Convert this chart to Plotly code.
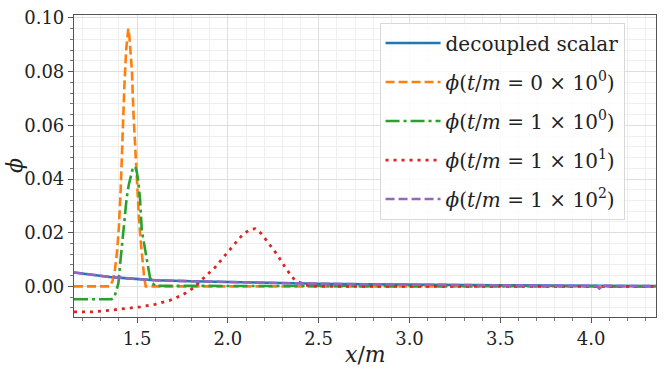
import plotly.graph_objects as go

# values
x_decoupled = [1.153, 1.25, 1.35, 1.45, 1.6, 1.8, 2.0, 2.25, 2.5, 2.75, 3.0, 3.25, 3.5, 3.75, 4.0, 4.2, 4.357]
y_decoupled = [0.0052, 0.0043, 0.0035, 0.0030, 0.0023, 0.0019, 0.0016, 0.0013, 0.0010, 0.0008, 0.0006,
               0.0005, 0.0004, 0.0003, 0.0002, 0.00015, 0.0001]

x_t0 = [1.153, 1.35, 1.365, 1.378, 1.39, 1.40, 1.41, 1.42, 1.43, 1.44, 1.447, 1.452, 1.458, 1.465,
        1.472, 1.48, 1.49, 1.50, 1.51, 1.52, 1.53, 1.54, 1.548, 4.357]
y_t0 = [0, 0, 0.002, 0.006, 0.013, 0.022, 0.036, 0.058, 0.074, 0.088, 0.095, 0.096, 0.093, 0.088,
        0.080, 0.065, 0.050, 0.036, 0.026, 0.017, 0.009, 0.003, 0, 0]

x_t1 = [1.153, 1.36, 1.375, 1.388, 1.397, 1.407, 1.416, 1.425, 1.435, 1.443, 1.455, 1.465, 1.475,
        1.489, 1.498, 1.507, 1.516, 1.526, 1.54, 1.553, 1.562, 1.571, 1.585, 1.6, 4.357]
y_t1 = [-0.0048, -0.0048, -0.0040, -0.0015, 0.001, 0.0083, 0.015, 0.0206, 0.027, 0.033, 0.038, 0.041,
        0.0435, 0.0447, 0.043, 0.039, 0.033, 0.021, 0.015, 0.0108, 0.0065, 0.0034, 0.0012, 0.0002, 0]

x_t10 = [1.153, 1.25, 1.35, 1.45, 1.52, 1.6, 1.68, 1.75, 1.81, 1.87, 1.93, 1.98, 2.03, 2.08, 2.12,
         2.15, 2.185, 2.23, 2.275, 2.32, 2.37, 2.43, 2.48, 2.6, 4.357]
y_t10 = [-0.0095, -0.0095, -0.0089, -0.0082, -0.0076, -0.0067, -0.0052, -0.0032, -0.0006, 0.0033,
         0.0071, 0.0112, 0.0151, 0.0192, 0.0211, 0.0215, 0.0196, 0.0157, 0.0115, 0.0066, 0.0022,
         0.0005, 0.0001, 0, 0]

x_t100 = [1.153, 1.25, 1.35, 1.45, 1.6, 1.8, 2.0, 2.25, 2.5, 2.75, 3.0, 3.25, 3.5, 3.75, 4.0, 4.03,
          4.045, 4.055, 4.062, 4.07, 4.2, 4.357]
y_t100 = [0.0052, 0.0043, 0.0035, 0.0030, 0.0023, 0.0019, 0.0016, 0.0013, 0.0010, 0.0008, 0.0006,
          0.0005, 0.0004, 0.0003, 0.0002, 0.0002, -0.0008, -0.0003, 0.0006, 0.0002, 0.00015, 0.0001]

font = "DejaVu Serif"

fig = go.Figure()
fig.add_trace(go.Scatter(x=x_decoupled, y=y_decoupled, mode="lines", name="decoupled scalar",
                         legendgroup="a", line=dict(color="#1f77b4", width=2.6)))
fig.add_trace(go.Scatter(x=x_t0, y=y_t0, mode="lines",
                         name="<i>ϕ</i>(<i>t</i>/<i>m</i> = 0 × 10<sup>0</sup>)",
                         legendgroup="b", line=dict(color="#ff7f0e", width=2.6, dash="9px,4px")))
fig.add_trace(go.Scatter(x=x_t1, y=y_t1, mode="lines",
                         name="<i>ϕ</i>(<i>t</i>/<i>m</i> = 1 × 10<sup>0</sup>)",
                         legendgroup="c", line=dict(color="#2ca02c", width=2.6, dash="14px,4px,3px,4px")))
fig.add_trace(go.Scatter(x=x_t10, y=y_t10, mode="lines",
                         name="<i>ϕ</i>(<i>t</i>/<i>m</i> = 1 × 10<sup>1</sup>)",
                         legendgroup="d", line=dict(color="#d62728", width=2.8, dash="3px,5px")))
fig.add_trace(go.Scatter(x=x_t100, y=y_t100, mode="lines",
                         name="<i>ϕ</i>(<i>t</i>/<i>m</i> = 1 × 10<sup>2</sup>)",
                         legendgroup="e", line=dict(color="#9467bd", width=2.6, dash="9px,4px")))

axis_common = dict(
    showline=True, linecolor="#555", linewidth=1.2, mirror=True,
    ticks="outside", ticklen=5, tickcolor="#555",
    showgrid=True, gridcolor="#dedede", gridwidth=1,
    zeroline=False,
    tickfont=dict(family=font, size=18, color="#222"),
)

fig.update_xaxes(
    range=[1.153, 4.357], dtick=0.5, tick0=0, tickformat=".1f",
    minor=dict(dtick=0.1, showgrid=True, gridcolor="#efefef", ticks="outside", ticklen=3, tickcolor="#777"),
    **axis_common,
)
fig.update_yaxes(
    range=[-0.0114, 0.1011], dtick=0.02, tick0=0, tickformat=".2f",
    minor=dict(dtick=0.004, showgrid=True, gridcolor="#efefef", ticks="outside", ticklen=3, tickcolor="#777"),
    **axis_common,
)

# axis titles placed as annotations to match the reference positions
fig.add_annotation(text="<i>x</i>/<i>m</i>", xref="paper", yref="paper", x=0.5, y=-0.125,
                   xanchor="center", yanchor="middle", showarrow=False,
                   font=dict(family=font, size=22, color="#222"))
fig.add_annotation(text="<i>ϕ</i>", xref="paper", yref="paper", x=-0.103, y=0.5,
                   xanchor="center", yanchor="middle", showarrow=False, textangle=-90,
                   font=dict(family=font, size=22, color="#222"))

fig.update_layout(
    width=664, height=376,
    margin=dict(l=74, r=7, t=11, b=59),
    plot_bgcolor="white", paper_bgcolor="white",
    font=dict(family=font, color="#222"),
    legend=dict(
        x=0.525, y=0.975, xanchor="left", yanchor="top",
        bgcolor="rgba(255,255,255,0.85)", bordercolor="#d8d8d8", borderwidth=1,
        font=dict(family=font, size=20, color="#222"),
        itemwidth=55,
        tracegroupgap=10,
    ),
    showlegend=True,
)

fig.write_html("out.html", config={"displayModeBar": False},
               post_script="document.body.style.margin='0px';")
